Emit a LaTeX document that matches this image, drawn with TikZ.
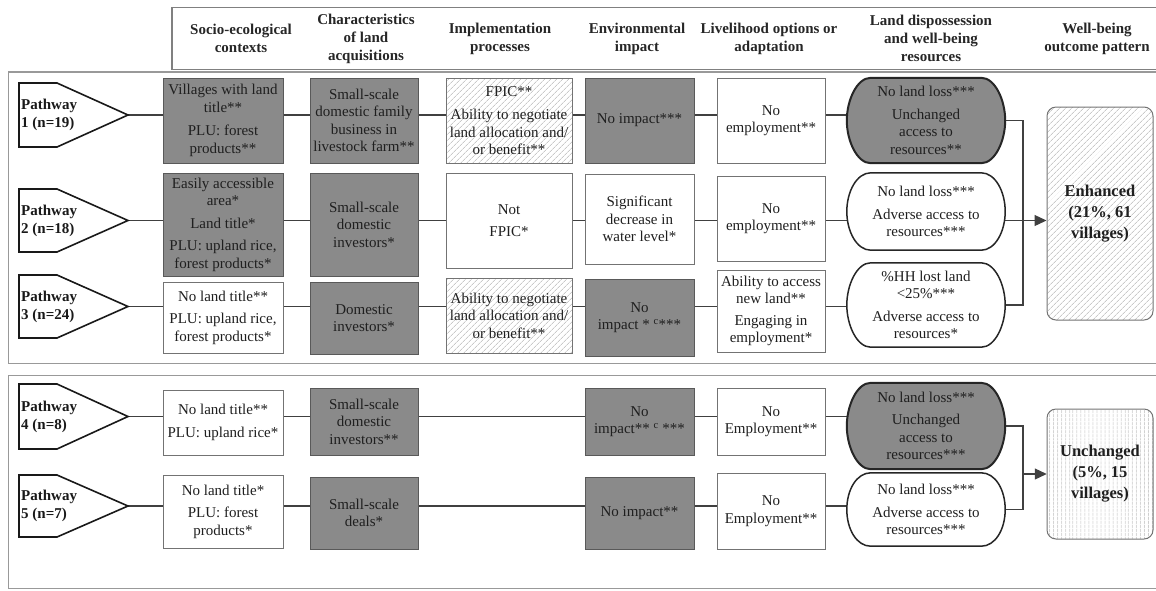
\documentclass[tikz,border=0pt]{standalone}
\usepackage{fontspec}
\setmainfont{Liberation Serif}
\usetikzlibrary{calc,patterns.meta,arrows.meta}
\pgfdeclarelayer{bg}
\pgfdeclarelayer{mid}
\pgfsetlayers{bg,mid,main}
\definecolor{boxgray}{gray}{0.54}
\newcommand\bodyf{\fontsize{15}{17.5}\selectfont}
\newcommand\mkbox[7]{\node[#2, minimum width={(#5)-(#3)}, minimum height={(#6)-(#4)}] (#1) at ({((#3)+(#5))/2},{((#4)+(#6))/2}) {#7};}
\newcommand\mkdshape[2]{\begin{pgfonlayer}{mid}\draw[#2] ($(#1.north west)+(24,0)$) .. controls ($(#1.north west)+(10,0)$) and ($(#1.west)+(0,-20)$) .. (#1.west) .. controls ($(#1.west)+(0,20)$) and ($(#1.south west)+(10,0)$) .. ($(#1.south west)+(24,0)$) -- ($(#1.south east)+(-24,0)$) .. controls ($(#1.south east)+(-10,0)$) and ($(#1.east)+(0,20)$) .. (#1.east) .. controls ($(#1.east)+(0,-20)$) and ($(#1.north east)+(-10,0)$) .. ($(#1.north east)+(-24,0)$) -- cycle;\end{pgfonlayer}}
\newcommand\mkpw[4]{\draw[pwshape] (19,#2) -- (57,#2) -- (128,{((#2)+(#3))/2}) -- (57,#3) -- (19,#3) -- cycle;
 \coordinate (t#1) at (128,{((#2)+(#3))/2});
 \node[pwtext, anchor=west] (pw#1) at (20,{((#2)+(#3))/2}) {Pathway\\#4};}
\tikzset{
 base/.style={align=center, font=\bodyf, text=black!88, inner sep=2pt},
 gbox/.style={base, draw=black!65, line width=0.9pt, fill=boxgray},
 wbox/.style={base, draw=black!55, line width=0.9pt, fill=white},
 hbox/.style={base, draw=black!55, line width=0.9pt, preaction={fill=white}, pattern={Lines[angle=45,distance=4pt,line width=0.5pt]}, pattern color=black!32},
 dtext/.style={base},
 dgray/.style={fill=boxgray, draw=black!85, line width=2pt},
 dwhite/.style={fill=white, draw=black!85, line width=1.5pt},
 pwshape/.style={draw=black!90, line width=1.6pt, fill=white},
 pwtext/.style={align=left, font=\fontsize{15}{18}\selectfont\bfseries, text=black!90, inner sep=1pt},
 hdr/.style={align=center, font=\fontsize{15}{18}\selectfont\bfseries, text=black!85},
 conn/.style={draw=black!75, line width=1.2pt},
 frame/.style={draw=black!50, line width=1.2pt},
 outbox/.style={draw=black!55, line width=1pt, rounded corners=9pt, preaction={fill=white}, align=center, font=\fontsize{16.5}{21}\selectfont\bfseries, text=black!88},
}
\begin{document}
\begin{tikzpicture}[x=1pt,y=-1pt]
\useasboundingbox (0,0) rectangle (1156,590);
% frames
\draw[frame] (1156,7.3) -- (172,7.3) -- (172,69.3) -- (1156,69.3);
\draw[frame, line width=1.6pt, draw=black!40] (1156,72) -- (8.4,72) -- (8.4,363.5) -- (1156,363.5);
\draw[frame, line width=1.6pt, draw=black!40] (1156,375.5) -- (8.4,375.5) -- (8.4,588.5) -- (1156,588.5);
% header
\node[hdr] (h1) at (241,38.5) {Socio-ecological\\contexts};
\node[hdr] (h2) at (366,38.5) {Characteristics\\of land\\acquisitions};
\node[hdr] (h3) at (500,38.5) {Implementation\\processes};
\node[hdr] (h4) at (637,38.5) {Environmental\\impact};
\node[hdr] (h5) at (769,38.5) {Livelihood options or\\adaptation};
\node[hdr] (h6) at (931,38.5) {Land dispossession\\and well-being\\resources};
\node[hdr] (h7) at (1097,38.5) {Well-being\\outcome pattern};
% pathways
\mkpw{1}{83}{147}{1 (n=19)}
\mkpw{2}{189}{252}{2 (n=18)}
\mkpw{3}{275}{338}{3 (n=24)}
\mkpw{4}{384}{449}{4 (n=8)}
\mkpw{5}{475}{537}{5 (n=7)}
% row 1
\mkbox{a1}{gbox}{163}{78}{283}{163}{Villages with land\\title**\\[6pt]PLU: forest\\products**}
\mkbox{b1}{gbox}{310}{78}{418}{163}{Small-scale\\domestic family\\business in\\livestock farm**}
\mkbox{c1}{hbox}{446}{78}{572}{163}{FPIC**\\[6pt]Ability to negotiate\\land allocation and/\\or benefit**}
\mkbox{d1}{gbox}{585}{78}{694}{163}{No impact***}
\mkbox{e1}{wbox}{717}{78}{825}{163}{No\\employment**}
\mkbox{f1}{dtext}{847}{78}{1005}{163}{No land loss***\\[5pt]Unchanged\\access to\\resources**}
% row 2
\mkbox{a2}{gbox}{163}{173}{283}{276}{Easily accessible\\area*\\[5pt]Land title*\\[5pt]PLU: upland rice,\\forest products*}
\mkbox{b2}{gbox}{310}{173}{418}{276}{Small-scale\\domestic\\investors*}
\mkbox{c2}{wbox}{446}{173}{572}{268}{Not\\[4pt]FPIC*}
\mkbox{d2}{wbox}{585}{174}{694}{264}{Significant\\decrease in\\water level*}
\mkbox{e2}{wbox}{717}{176}{825}{261}{No\\employment**}
\mkbox{f2}{dtext}{847}{173}{1005}{250}{No land loss***\\[5pt]Adverse access to\\resources***}
% row 3
\mkbox{a3}{wbox}{163}{282}{283}{353}{No land title**\\[5pt]PLU: upland rice,\\forest products*}
\mkbox{b3}{gbox}{310}{282}{418}{354}{Domestic\\investors*}
\mkbox{c3}{hbox}{446}{278}{572}{353}{Ability to negotiate\\land allocation and/\\or benefit**}
\mkbox{d3}{gbox}{585}{279}{694}{356}{No\\impact * \textsuperscript{c}***}
\mkbox{e3}{wbox}{717}{270}{825}{352}{Ability to access\\new land**\\[4pt]Engaging in\\employment*}
\mkbox{f3}{dtext}{847}{263}{1005}{347}{\%HH lost land\\<25\%***\\[5pt]Adverse access to\\resources*}
% row 4
\mkbox{a4}{wbox}{163}{390}{283}{455}{No land title**\\[5pt]PLU: upland rice*}
\mkbox{b4}{gbox}{310}{388}{418}{455}{Small-scale\\domestic\\investors**}
\mkbox{d4}{gbox}{585}{388}{694}{455}{No\\impact** \textsuperscript{c} ***}
\mkbox{e4}{wbox}{717}{388}{825}{455}{No\\Employment**}
\mkbox{f4}{dtext}{847}{383}{1005}{469}{No land loss***\\[5pt]Unchanged\\access to\\resources***}
% row 5
\mkbox{a5}{wbox}{163}{475}{283}{548}{No land title*\\[5pt]PLU: forest\\products*}
\mkbox{b5}{gbox}{310}{477}{418}{549}{Small-scale\\deals*}
\mkbox{d5}{gbox}{585}{477}{694}{549}{No impact**}
\mkbox{e5}{wbox}{717}{473}{825}{549}{No\\Employment**}
\mkbox{f5}{dtext}{847}{473}{1005}{546}{No land loss***\\[5pt]Adverse access to\\resources***}
% land dispossession outlines
\mkdshape{f1}{dgray}
\mkdshape{f2}{dwhite}
\mkdshape{f3}{dwhite}
\mkdshape{f4}{dgray}
\mkdshape{f5}{dwhite}
% outcomes
\node[outbox, pattern={Lines[angle=45,distance=4pt,line width=0.5pt]}, pattern color=black!32, minimum width=106, minimum height=213] (o1) at (1100,213.5) {Enhanced\\(21\%, 61\\villages)};
\node[outbox, pattern={Lines[angle=90,distance=4pt,line width=0.5pt]}, pattern color=black!32, minimum width=106, minimum height=130] (o2) at (1100,474) {Unchanged\\(5\%, 15\\villages)};
\coordinate (bx) at (1023,0);
% connectors
\begin{pgfonlayer}{bg}
\draw[conn] (t1) -- (t1 -| a1.west) (t1 -| a1.east) -- (t1 -| b1.west) (t1 -| b1.east) -- (t1 -| c1.west) (t1 -| c1.east) -- (t1 -| d1.west) (t1 -| d1.east) -- (t1 -| e1.west) (t1 -| e1.east) -- (t1 -| f1.center);
\draw[conn] (t2) -- (t2 -| a2.west) (t2 -| a2.east) -- (t2 -| b2.west) (t2 -| b2.east) -- (t2 -| c2.west) (t2 -| c2.east) -- (t2 -| d2.west) (t2 -| d2.east) -- (t2 -| e2.west) (t2 -| e2.east) -- (t2 -| f2.center);
\draw[conn] (t3) -- (t3 -| a3.west) (t3 -| a3.east) -- (t3 -| b3.west) (t3 -| b3.east) -- (t3 -| c3.west) (t3 -| c3.east) -- (t3 -| d3.west) (t3 -| d3.east) -- (t3 -| e3.west) (t3 -| e3.east) -- (t3 -| f3.center);
\draw[conn] (t4) -- (t4 -| a4.west) (t4 -| a4.east) -- (t4 -| b4.west) (t4 -| b4.east) -- (t4 -| d4.west) (t4 -| d4.east) -- (t4 -| e4.west) (t4 -| e4.east) -- (t4 -| f4.center);
\draw[conn] (t5) -- (t5 -| a5.west) (t5 -| a5.east) -- (t5 -| b5.west) (t5 -| b5.east) -- (t5 -| d5.west) (t5 -| d5.east) -- (t5 -| e5.west) (t5 -| e5.east) -- (t5 -| f5.center);
\draw[conn] (f1.east) -- (f1.east -| bx) -- (f3.east -| bx) -- (f3.east);
\draw[conn, -{Triangle[length=12pt,width=11pt]}] (t2 -| f2.center) -- (t2 -| o1.west);
\draw[conn] (f4.east) -- (f4.east -| bx) -- (f5.east -| bx) -- (f5.east);
\draw[conn, -{Triangle[length=12pt,width=11pt]}] (bx |- o2.west) -- (o2.west);
\end{pgfonlayer}
\end{tikzpicture}
\end{document}
